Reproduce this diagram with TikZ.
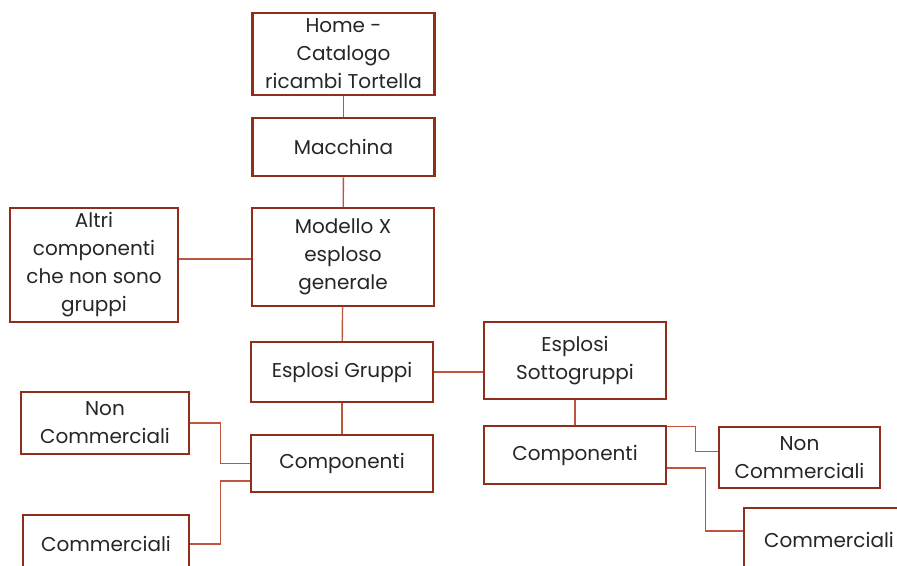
\documentclass[tikz,border=0pt]{standalone}
\usepackage{fontspec}
\setmainfont{Poppins}
\usetikzlibrary{calc, positioning}

\definecolor{boxred}{HTML}{8E2F1C}
\definecolor{linkred}{HTML}{C0553F}
\definecolor{txtgray}{HTML}{262626}

\begin{document}
\begin{tikzpicture}[x=1pt, y=-1pt, font=\fontsize{20}{28}\selectfont, text=txtgray]
    % Define styles for boxes and links
    \tikzset{
        card/.style={draw=boxred, line width=2.5pt, fill=white, align=center, inner sep=0pt,
            minimum width=182pt, minimum height=58pt},
        link/.style={draw=linkred, line width=1.4pt}
    }
    \useasboundingbox (0,0) rectangle (897,565);

    % MAIN COLUMN
    \node[card, minimum height=82pt] (home) at (343.5,54) {Home -\\Catalogo\\ricambi Tortella};
    \node[card] (macchina) at (343.5,147) {Macchina};
    \node[card, minimum height=98pt] (modello) at (343,257) {Modello X\\esploso\\generale};
    \node[card, minimum width=168pt, minimum height=114pt] (altri) at (94,265) {Altri\\componenti\\che non sono\\gruppi};
    \node[card, minimum height=60pt] (gruppi) at (342,372) {Esplosi Gruppi};
    \node[card, minimum height=57pt] (compl) at (342,463.5) {Componenti};

    % LEFT LEAVES
    \node[card, minimum width=168pt, minimum height=62pt] (noncomml) at (105,423) {Non\\Commerciali};
    \node[card, minimum width=166pt, minimum height=58pt] (comml) at (106,544) {Commerciali};

    % RIGHT BRANCH
    \node[card, minimum height=77pt] (sotto) at (575,360.5) {Esplosi\\Sottogruppi};
    \node[card] (compr) at (575,455) {Componenti};
    \node[card, minimum width=161pt, minimum height=61pt] (noncommr) at (799.5,457.5) {Non\\Commerciali};
    \node[card, minimum width=170pt, minimum height=64pt] (commr) at (829,540) {Commerciali};

    % Links
    \draw[link] (home) -- (macchina);
    \draw[link] (macchina) -- (modello);
    \draw[link] (altri.east |- 0,259) -- (modello.west |- 0,259);
    \draw[link] (modello) -- (gruppi);
    \draw[link] (gruppi) -- (sotto.west |- gruppi);
    \draw[link] (gruppi) -- (compl);
    \draw[link] (sotto) -- (compr);
    \draw[link] (noncomml.east) -- ++(30,0) |- (compl.west);
    \draw[link] (comml.east) -- ++(30,0) |- ($(compl.west)+(0,17.5)$);
    \draw[link] ($(compr.north east)+(0,1.5)$) -- ++(28,0) |- ($(noncommr.west)+(0,-6)$);
    \draw[link] ($(compr.east)+(0,13)$) -- ++(38,0) |- ($(commr.west)+(0,-9)$);

\end{tikzpicture}
\end{document}
